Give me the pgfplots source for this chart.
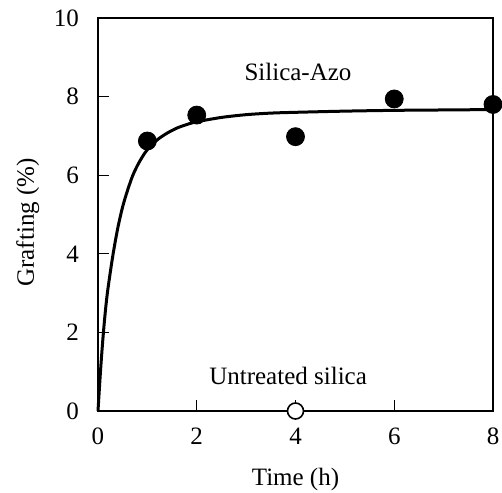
\documentclass[border=0pt]{standalone}
\usepackage{pgfplots}
\pgfplotsset{compat=1.18}
\usepackage{fontspec}
\setmainfont{Liberation Serif}
\begin{document}
\begin{tikzpicture}
\useasboundingbox (-49pt,-40.5pt) rectangle (202pt,205.5pt);
\begin{axis}[
    at={(0,0)}, anchor=south west,
    scale only axis,
    width=197.5pt, height=196.5pt,
    xmin=0, xmax=8, ymin=0, ymax=10,
    xtick={0,2,4,6,8}, ytick={0,2,4,6,8,10},
    tick pos=left, tick align=inside,
    major tick length=5.5pt,
    axis line style={line width=1pt},
    every tick/.style={black, line width=0.6pt},
    font=\fontsize{12.5}{15}\selectfont,
    /pgf/number format/assume math mode=true,
    ticklabel style={font=\fontsize{12.5}{15}\selectfont},
    yticklabel style={xshift=-6pt},
    xticklabel style={yshift=-5pt},
    xlabel={Time (h)},
    ylabel={Grafting (\%)},
    xlabel style={at={(axis description cs:0.5,-0.175)}, anchor=center},
    ylabel style={at={(axis description cs:-0.178,0.48)}, anchor=center},
    clip=false,
]
% fitted curve
\addplot[black, line width=1.5pt, smooth, no marks] coordinates {
    (0,0) (0.05,1.0) (0.1,1.85) (0.15,2.55) (0.2,3.1) (0.3,3.95) (0.4,4.65)
    (0.5,5.2) (0.6,5.62) (0.7,5.98) (0.8,6.25) (0.9,6.47) (1,6.65)
    (1.2,6.9) (1.4,7.07) (1.6,7.2) (1.8,7.29) (2,7.36) (2.5,7.47) (3,7.54)
    (3.5,7.58) (4,7.6) (5,7.63) (6,7.65) (7,7.66) (8,7.67)
};
% Silica-Azo
\addplot[only marks, mark=*, mark size=4.5pt, mark options={fill=black, draw=black}]
    coordinates {(1,6.87) (2,7.53) (4,6.98) (6,7.94) (8,7.8)};
% Untreated silica
\addplot[only marks, mark=*, mark size=4pt, mark options={fill=white, draw=black, line width=0.8pt}]
    coordinates {(4,0)};
\node at (axis cs:4.05,8.63) {Silica-Azo};
\node at (axis cs:3.85,0.9) {Untreated silica};
\end{axis}
\end{tikzpicture}
\end{document}
